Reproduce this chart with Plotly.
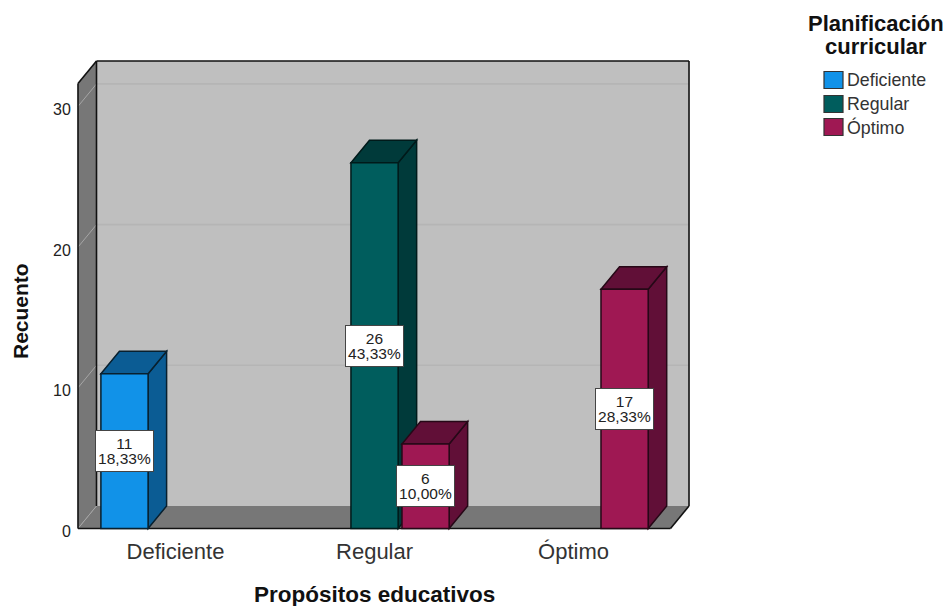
import plotly.graph_objects as go

CATEGORIES = ["Deficiente", "Regular", "Óptimo"]
SERIES_NAMES = ["Deficiente", "Regular", "Óptimo"]
DEFICIENTE = [11, None, None]
REGULAR = [None, 26, None]
OPTIMO = [None, 6, 17]
SERIES = [DEFICIENTE, REGULAR, OPTIMO]
PERCENTS = [
    ["18,33%", None, None],
    [None, "43,33%", None],
    [None, "10,00%", "28,33%"],
]
Y_TICKS = [0, 10, 20, 30]

FRONT = ["#1192E8", "#005D5D", "#9F1853"]
DEPTH = ["#0B5C94", "#003A3A", "#610F37"]
EDGE = ["#08202F", "#001A1A", "#260817"]
WALL = "#BFBFBF"
FLOOR = "#777777"
FONT = "Liberation Sans"

W, H = 949, 606
M_L, M_R, M_T, M_B = 76, 258, 59, 75
PW, PH = W - M_L - M_R, H - M_T - M_B

# grouping of the bars, as fractions of one category
BARGAP = 0.231
GROUPGAP = 0.075
SLOT = (1 - BARGAP) / len(SERIES)
BAR_W = SLOT * (1 - GROUPGAP)

# pseudo 3D box, in axis units
X_LOW, X_HIGH = -0.5, 2.59
Y_LOW, Y_HIGH = -0.178, 33.37
DX = 0.093
DY = 1.6
BOX_L, BOX_R = -0.49, 2.58
BOX_TOP = 33.23


def poly(points):
    return "M " + " L ".join(f"{x},{y}" for x, y in points) + " Z"


def face(points, fill, line="rgba(0,0,0,0)", width=0):
    return dict(type="path", path=poly(points), xref="x", yref="y", fillcolor=fill,
                line=dict(color=line, width=width), layer="below")


def seg(x0, y0, x1, y1, color="#111111", width=1.6):
    return dict(type="line", x0=x0, y0=y0, x1=x1, y1=y1, xref="x", yref="y",
                line=dict(color=color, width=width), layer="below")


def px_x(x):
    return (x - M_L) / PW


def px_y(y):
    return 1 - (y - M_T) / PH


def label(x, y, text, size, color="#111111", **kwargs):
    # text placed by page pixels
    return dict(x=px_x(x), y=px_y(y), xref="paper", yref="paper", text=text, showarrow=False,
                font=dict(family=FONT, size=size, color=color), **kwargs)


shapes = [
    face([(BOX_L + DX, DY), (BOX_R, DY), (BOX_R, BOX_TOP), (BOX_L + DX, BOX_TOP)], WALL),
    face([(BOX_L, 0), (BOX_R - DX, 0), (BOX_R, DY), (BOX_L + DX, DY)], FLOOR),
    face([(BOX_L, 0), (BOX_L + DX, DY), (BOX_L + DX, BOX_TOP), (BOX_L, BOX_TOP - DY)], FLOOR),
]
for tick in Y_TICKS:
    shapes.append(seg(BOX_L, tick, BOX_L + DX, tick + DY, "#A6A6A6", 1))
    if tick:
        shapes.append(seg(BOX_L + DX, tick + DY, BOX_R, tick + DY, "#B5B5B5", 1.6))
shapes += [
    seg(BOX_L + DX, DY, BOX_L + DX, BOX_TOP),
    seg(BOX_L + DX, BOX_TOP, BOX_R, BOX_TOP),
    seg(BOX_R, DY, BOX_R, BOX_TOP),
    seg(BOX_L, 0, BOX_L, BOX_TOP - DY),
    seg(BOX_L, BOX_TOP - DY, BOX_L + DX, BOX_TOP),
    seg(BOX_L, 0, BOX_R - DX, 0),
    seg(BOX_R - DX, 0, BOX_R, DY),
]

fig = go.Figure()
annotations = []

for i, (name, values) in enumerate(zip(SERIES_NAMES, SERIES)):
    fig.add_trace(go.Bar(x=list(range(len(CATEGORIES))), y=values, name=name,
                         marker=dict(color=FRONT[i], line=dict(color=EDGE[i], width=1.5))))
    for c, v in enumerate(values):
        if v is None:
            continue
        mid = c + (i - 1) * SLOT
        l, r = mid - BAR_W / 2, mid + BAR_W / 2
        # side and top face of the bar
        shapes.append(face([(r, 0), (r + DX, DY), (r + DX, v + DY), (r, v)], DEPTH[i], EDGE[i], 1.5))
        shapes.append(face([(l, v), (r, v), (r + DX, v + DY), (l + DX, v + DY)], DEPTH[i], EDGE[i], 1.5))
        # small base size keeps the two lines as tight as in the original
        text = f'<span style="font-size:15.5px">{v}<br>{PERCENTS[i][c]}</span>'
        annotations.append(dict(
            x=mid, y=v / 2, xref="x", yref="y", text=text, showarrow=False,
            font=dict(family=FONT, size=12, color="#222222"), bgcolor="#FFFFFF",
            bordercolor="#444444", borderwidth=1, width=55, height=38, align="center", valign="middle",
        ))

# legend by hand, the swatches are bigger than what plotly's legend can draw
LEG_Y = [80, 104, 127]
for name, color, y in zip(SERIES_NAMES, FRONT, LEG_Y):
    shapes.append(dict(type="rect", xref="paper", yref="paper", x0=px_x(824), x1=px_x(843),
                       y0=px_y(y + 8.5), y1=px_y(y - 8.5), fillcolor=color,
                       line=dict(color="#333333", width=1.2)))
    annotations.append(label(845, y, name, 17.8, "#333333", xanchor="left", yanchor="middle"))

annotations.append(label(876, 35, '<b><span style="font-size:22px">Planificación<br>curricular</span></b>',
                         18, xanchor="center", yanchor="middle", align="center"))
annotations.append(label(374, 594, "<b>Propósitos educativos</b>", 22.5, xanchor="center", yanchor="middle"))
annotations.append(label(20, 311, "<b>Recuento</b>", 21, xanchor="center", yanchor="middle", textangle=-90))

fig.update_layout(
    width=W,
    height=H,
    barmode="group",
    bargap=BARGAP,
    bargroupgap=GROUPGAP,
    showlegend=False,
    plot_bgcolor="#FFFFFF",
    paper_bgcolor="#FFFFFF",
    margin=dict(l=M_L, r=M_R, t=M_T, b=M_B),
    shapes=shapes,
    annotations=annotations,
    xaxis=dict(
        range=[X_LOW, X_HIGH],
        tickvals=list(range(len(CATEGORIES))),
        ticktext=CATEGORIES,
        showgrid=False, zeroline=False, showline=False,
        ticks="outside", ticklen=1, tickcolor="rgba(0,0,0,0)",
        tickfont=dict(family=FONT, size=22, color="#333333"),
    ),
    yaxis=dict(
        range=[Y_LOW, Y_HIGH],
        tickvals=Y_TICKS,
        showgrid=False, zeroline=False, showline=False,
        ticks="outside", ticklen=1, tickcolor="rgba(0,0,0,0)",
        ticklabelshift=3,
        tickfont=dict(family=FONT, size=16, color="#222222"),
    ),
)

fig.write_html("out.html", config=dict(displayModeBar=False), post_script="document.body.style.margin='0';")
